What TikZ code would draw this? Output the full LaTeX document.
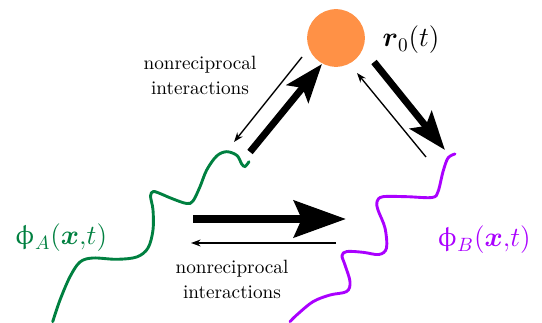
\documentclass[tikz,border=0pt]{standalone}
\usepackage{amsmath}
\usepackage{upgreek}
\usetikzlibrary{arrows.meta}
\definecolor{dotorange}{RGB}{255,145,70}
\definecolor{fieldgreen}{RGB}{0,128,64}
\definecolor{fieldpurple}{RGB}{170,0,255}
\begin{document}
\begin{tikzpicture}[x=0.52pt,y=-0.52pt,
  bigarr/.style={line width=3.6pt,-{Stealth[length=20pt,width=14.5pt,inset=4pt]}},
  hugearr/.style={line width=4.2pt,-{Stealth[length=27pt,width=19pt,inset=4pt]}},
  thinarr/.style={line width=0.7pt,-{Stealth[length=5pt,width=3.6pt]}},
  field/.style={line width=1.5pt,line cap=round},
  lbl/.style={align=center,font=\normalsize,inner sep=0pt}]
\useasboundingbox (0,0) rectangle (542,323);
% particle
\node[circle,fill=dotorange,minimum size=30pt,inner sep=0pt] (r0) at (336,38) {};
\node (r0lab) at (411,40) {\Large $\boldsymbol{r}_0(t)$};
% fields
\draw[field,fieldgreen] plot[smooth,tension=0.55] coordinates {(52.7,321.7) (60,300) (70,276.7) (80,262) (93,258) (116.7,259.3) (136.7,257) (148,248) (153,230) (153,210) (150.5,196) (153,191.7) (158,192.7) (173,199) (186.7,203.5) (193,201) (200,186.7) (206.7,170) (216.7,156) (226.7,151.7) (237,155.5) (241.7,164) (245,166.5) (249,161.7)};
\draw[field,fieldpurple] plot[smooth,tension=0.55] coordinates {(290,321.7) (296.7,315) (313,301.7) (330,295) (346.7,291.5) (350,281.7) (345,265) (342,255.5) (347,251.5) (363,252.3) (379,254.5) (386.5,248) (385,228) (378,210) (377,201.5) (383,196.7) (406.7,196.7) (432,197.5) (438,191.7) (443,171.7) (448,158) (455,154)};
\node[fieldgreen] (phiA) at (61,238) {\Large $\upphi_A(\boldsymbol{x}{,}t)$};
\node[fieldpurple] (phiB) at (484,240) {\Large $\upphi_B(\boldsymbol{x}{,}t)$};
% connectors
\coordinate (a1) at (250,152); \coordinate (a2) at (322,64);
\coordinate (b1) at (302,57);  \coordinate (b2) at (234,142);
\coordinate (c1) at (374,62);  \coordinate (c2) at (445,150);
\coordinate (d1) at (426,157); \coordinate (d2) at (357,73);
\coordinate (e1) at (193,219); \coordinate (e2) at (346,219);
\coordinate (f1) at (336,243); \coordinate (f2) at (191,243);
\draw[bigarr] (a1) -- (a2);
\draw[thinarr] (b1) -- (b2);
\draw[bigarr] (c1) -- (c2);
\draw[thinarr] (d1) -- (d2);
\draw[hugearr] (e1) -- (e2);
\draw[thinarr] (f1) -- (f2);
\node[lbl] (t1) at (200,75) {nonreciprocal\\[1pt]interactions};
\node[lbl] (t2) at (232,279) {nonreciprocal\\[1pt]interactions};
\end{tikzpicture}
\end{document}
